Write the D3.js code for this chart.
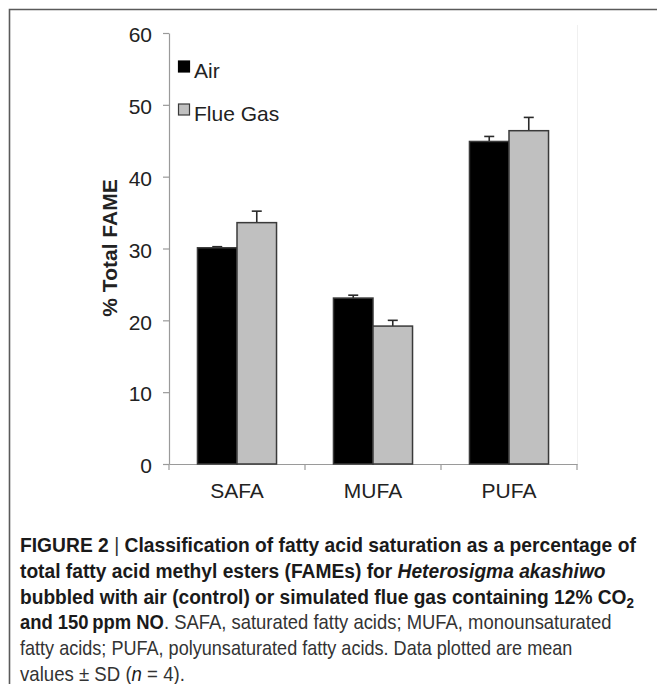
<!DOCTYPE html>
<html>
<head>
<meta charset="utf-8">
<script src="https://cdn.jsdelivr.net/npm/d3@7"></script>
<style>
  html, body { margin: 0; padding: 0; background: #fff; }
  svg { display: block; }
</style>
</head>
<body>
<svg id="chart" width="657" height="684"></svg>
<script>
// ---- data ----
const categories = ["SAFA", "MUFA", "PUFA"];
const series = ["Air", "Flue Gas"];
const airMean = [30.1, 23.1, 44.9];
const airSD = [0.15, 0.4, 0.7];
const flueMean = [33.6, 19.2, 46.4];
const flueSD = [1.6, 0.8, 1.85];
const yTicks = [0, 10, 20, 30, 40, 50, 60];
const yLabel = "% Total FAME";

const svg = d3.select("#chart");
const FONT = "'Liberation Sans', Arial, Helvetica, sans-serif";
const NARROW = "'Liberation Sans Narrow', 'Liberation Sans', Arial, sans-serif";

// frame
svg.append("path")
  .attr("d", "M9.5,684 L9.5,9.5 L657,9.5")
  .attr("fill", "none").attr("stroke", "#5a5a5a").attr("stroke-width", 1.6);

// scales
const x = d3.scaleBand().domain(categories).range([169, 577]).padding(0);
const xs = d3.scaleBand().domain(series).range([0, x.bandwidth()]).paddingInner(0).paddingOuter(0.72);
const y = d3.scaleLinear().domain([0, 60]).range([464, 33]);

// faint plot edge
svg.append("line").attr("x1", x.range()[1] + 0.5).attr("x2", x.range()[1] + 0.5)
  .attr("y1", 25).attr("y2", y(0)).attr("stroke", "#f0f0f0").attr("stroke-width", 1);

// y axis
const yAxis = svg.append("g").attr("transform", `translate(${x.range()[0]},0)`)
  .call(d3.axisLeft(y).tickValues(yTicks).tickSizeInner(6).tickSizeOuter(0).tickPadding(11));
yAxis.select(".domain").attr("stroke", "#9a9a9a").attr("stroke-width", 1.2);
yAxis.selectAll(".tick line").attr("stroke", "#9a9a9a").attr("stroke-width", 1.2);
yAxis.selectAll(".tick text").attr("font-family", FONT).attr("font-size", 21).attr("fill", "#222")
  .attr("dy", "0.42em");

// x axis
const xAxis = svg.append("g").attr("transform", `translate(0,${y(0)})`)
  .call(d3.axisBottom(x).tickSize(0).tickPadding(19));
xAxis.select(".domain").attr("stroke", "#9a9a9a").attr("stroke-width", 1.2);
xAxis.selectAll(".tick text").attr("font-family", FONT).attr("font-size", 21).attr("fill", "#222");
// boundary ticks
const bounds = categories.map(c => x(c)).concat([x.range()[1]]);
xAxis.selectAll("line.bound").data(bounds).enter().append("line")
  .attr("class", "bound")
  .attr("x1", d => d).attr("x2", d => d).attr("y1", 0).attr("y2", 6)
  .attr("stroke", "#9a9a9a").attr("stroke-width", 1.2);

// bars
const rows = [];
categories.forEach((c, i) => {
  rows.push({ cat: c, s: "Air", v: airMean[i], sd: airSD[i] });
  rows.push({ cat: c, s: "Flue Gas", v: flueMean[i], sd: flueSD[i] });
});
const color = d3.scaleOrdinal().domain(series).range(["#000000", "#c0c0c0"]);

// error bars (drawn first so bars cover lower part)
const eb = svg.append("g");
eb.selectAll("line.v").data(rows).enter().append("line")
  .attr("x1", d => x(d.cat) + xs(d.s) + xs.bandwidth() / 2)
  .attr("x2", d => x(d.cat) + xs(d.s) + xs.bandwidth() / 2)
  .attr("y1", d => y(d.v)).attr("y2", d => y(d.v + d.sd))
  .attr("stroke", "#2a2a2a").attr("stroke-width", 1.6);
eb.selectAll("line.c").data(rows).enter().append("line")
  .attr("x1", d => x(d.cat) + xs(d.s) + xs.bandwidth() / 2 - 5)
  .attr("x2", d => x(d.cat) + xs(d.s) + xs.bandwidth() / 2 + 5)
  .attr("y1", d => y(d.v + d.sd)).attr("y2", d => y(d.v + d.sd))
  .attr("stroke", "#2a2a2a").attr("stroke-width", 1.6);

svg.append("g").selectAll("rect").data(rows).enter().append("rect")
  .attr("x", d => x(d.cat) + xs(d.s))
  .attr("width", xs.bandwidth())
  .attr("y", d => y(d.v))
  .attr("height", d => y(0) - y(d.v))
  .attr("fill", d => color(d.s))
  .attr("stroke", "#3a3a3a").attr("stroke-width", 1.5);

// legend
const lg = svg.append("g");
series.forEach((s, i) => {
  const yy = 61 + i * 43;
  lg.append("rect").attr("x", 178.5).attr("y", yy).attr("width", 11).attr("height", 11)
    .attr("fill", color(s)).attr("stroke", i ? "#3a3a3a" : "#000").attr("stroke-width", 1.2);
  lg.append("text").attr("x", 194).attr("y", yy + 17).text(s)
    .attr("font-family", FONT).attr("font-size", 21).attr("fill", "#222");
});

// y label
svg.append("text")
  .attr("transform", "translate(117,248) rotate(-90)")
  .attr("text-anchor", "middle")
  .attr("font-family", FONT).attr("font-size", 21).attr("font-weight", "bold").attr("fill", "#222")
  .text(yLabel);

// caption
const captionLines = [
  { w: 616, parts: [["FIGURE 2 ", "b"], ["|", "n"], [" Classification of fatty acid saturation as a percentage of", "b"]] },
  { w: 586, parts: [["total fatty acid methyl esters (FAMEs) for ", "b"], ["Heterosigma akashiwo", "bi"]] },
  { w: 614, parts: [["bubbled with air (control) or simulated flue gas containing 12% CO", "b"], ["2", "bsub"]] },
  { w: 592, parts: [["and 150\u2009ppm NO", "b"], [". SAFA, saturated fatty acids; MUFA, monounsaturated", "n"]] },
  { w: 553, parts: [["fatty acids; PUFA, polyunsaturated fatty acids. Data plotted are mean", "n"]] },
  { w: 165, parts: [["values \u00B1 SD (", "n"], ["n", "i"], [" = 4).", "n"]] }
];
const cap = svg.append("g");
captionLines.forEach((ln, i) => {
  const t = cap.append("text")
    .attr("font-family", NARROW).attr("font-size", 20).attr("fill", "#1a1a1a");
  ln.parts.forEach(([txt, st]) => {
    const sp = t.append("tspan").text(txt);
    if (st.includes("b")) sp.attr("font-weight", "bold");
    if (st.includes("i")) sp.attr("font-style", "italic");
    if (st.includes("n") && !st.includes("b")) sp.attr("fill", "#333");
    if (st.includes("sub")) sp.attr("font-size", 14).attr("baseline-shift", "-25%");
  });
  const nat = t.node().getComputedTextLength();
  const sx = ln.w / nat;
  t.attr("transform", `translate(20,${552 + i * 25.8}) scale(${sx},1)`);
});
</script>
</body>
</html>
